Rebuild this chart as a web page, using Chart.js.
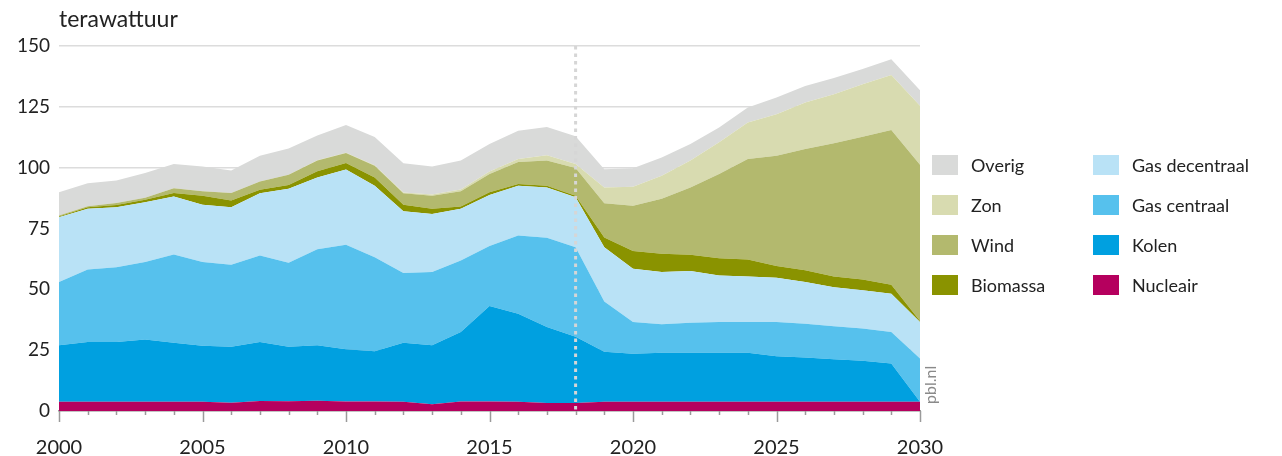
<!DOCTYPE html>
<html>
<head>
<meta charset="utf-8">
<script src="https://cdn.jsdelivr.net/npm/chart.js@4.4.0/dist/chart.umd.min.js"></script>
<style>
  body { margin: 0; background: #fff; font-family: Lato, "Open Sans", sans-serif; color: #222; }
  #wrap { position: relative; width: 1282px; height: 456px; }
  #unit { position: absolute; left: 59px; top: 4px; font-size: 23px; }
  #pbl { position: absolute; left: 920px; top: 404px; font-size: 16px; color: #8a8a8a; transform: rotate(-90deg); transform-origin: left top; }
  .leg { position: absolute; font-size: 18px; line-height: 20px; }
  .leg span { position: absolute; left: 0; top: 0; width: 26px; height: 20px; }
  .leg b { position: absolute; left: 39px; top: 0; font-weight: normal; white-space: nowrap; }
</style>
</head>
<body>
<div id="wrap">
  <canvas id="energyChart" width="1282" height="456"></canvas>
  <div id="unit">terawattuur</div>
  <div id="pbl">pbl.nl</div>
</div>
<script>
// productie per bron, TWh
const years = [2000, 2001, 2002, 2003, 2004, 2005, 2006, 2007, 2008, 2009, 2010,
  2011, 2012, 2013, 2014, 2015, 2016, 2017, 2018, 2019, 2020,
  2021, 2022, 2023, 2024, 2025, 2026, 2027, 2028, 2029, 2030];

const nucleair = [3.8, 3.8, 3.8, 3.8, 3.8, 3.8, 3.4, 4.1, 4.0, 4.2, 3.9,
  3.9, 3.8, 2.8, 3.9, 3.9, 3.8, 3.3, 3.3, 3.8, 3.8,
  3.8, 3.8, 3.8, 3.8, 3.8, 3.8, 3.8, 3.8, 3.8, 3.8];
const kolen = [23.2, 24.6, 24.6, 25.6, 24.2, 23.0, 23.0, 24.3, 22.4, 22.8, 21.5,
  20.7, 24.2, 24.2, 28.6, 39.3, 36.2, 31.2, 27.2, 20.5, 19.7,
  20.1, 20.1, 20.1, 20.1, 18.7, 18.2, 17.5, 16.8, 15.7, 0];
const gasCentraal = [26.0, 29.7, 30.7, 31.8, 36.3, 34.4, 33.7, 35.5, 34.5, 39.5, 42.9,
  38.6, 28.7, 30.1, 29.4, 24.6, 32.1, 36.7, 36.8, 20.7, 13.1,
  11.8, 12.4, 12.7, 12.7, 14.1, 13.9, 13.5, 13.3, 13.0, 17.8];
const gasDecentraal = [26.6, 25.0, 24.6, 24.6, 23.8, 23.6, 23.6, 25.6, 30.4, 29.5, 30.9,
  29.4, 25.4, 23.9, 21.2, 21.0, 20.5, 20.7, 20.5, 22.3, 21.9,
  21.4, 21.2, 19.1, 18.7, 18.2, 17.1, 16.1, 15.7, 15.7, 15.0];
const biomassa = [0.3, 0.6, 1.0, 1.0, 1.5, 3.7, 2.8, 1.4, 1.6, 2.5, 2.7,
  3.4, 2.7, 2.1, 0.9, 1.1, 0.7, 0.7, 0.7, 4.0, 7.3,
  7.5, 6.7, 7.1, 7.0, 4.8, 4.8, 4.4, 4.4, 3.7, 0.4];
const wind = [0.4, 0.4, 0.8, 0.8, 1.9, 1.8, 3.1, 3.4, 4.2, 4.4, 4.1,
  4.8, 4.7, 5.4, 6.3, 7.5, 9.0, 10.3, 11.4, 14.1, 18.6,
  22.6, 27.7, 34.6, 41.3, 45.3, 49.9, 54.7, 58.7, 63.6, 64.2];
const zon = [0, 0, 0, 0, 0, 0, 0, 0, 0, 0.1, 0.1,
  0.2, 0.3, 0.5, 0.7, 1.0, 1.3, 2.2, 1.6, 6.5, 7.8,
  9.5, 11.0, 13.0, 15.0, 17.1, 19.1, 20.2, 21.6, 22.6, 24.2];
const overig = [9.6, 9.5, 9.2, 10.2, 10.0, 10.2, 9.2, 10.6, 10.8, 10.2, 11.4,
  11.6, 12.0, 11.5, 11.9, 11.3, 11.6, 11.6, 11.4, 7.5, 7.6,
  7.5, 6.8, 6.1, 6.1, 6.8, 6.8, 6.6, 6.2, 6.5, 6.4];

const yTicks = [0, 25, 50, 75, 100, 125, 150];
const xLabelYears = [2000, 2005, 2010, 2015, 2020, 2025, 2030];
const splitYear = 2018; // grens realisatie / raming

const series = [
  { label: "Nucleair", data: nucleair, color: "#b5005e" },
  { label: "Kolen", data: kolen, color: "#00a0e0" },
  { label: "Gas centraal", data: gasCentraal, color: "#56c1ed" },
  { label: "Gas decentraal", data: gasDecentraal, color: "#b9e2f6" },
  { label: "Biomassa", data: biomassa, color: "#8a9300" },
  { label: "Wind", data: wind, color: "#b3b96e" },
  { label: "Zon", data: zon, color: "#d8dbb0" },
  { label: "Overig", data: overig, color: "#d9dad9" }
];
const legendCols = [["Overig", "Zon", "Wind", "Biomassa"], ["Gas decentraal", "Gas centraal", "Kolen", "Nucleair"]];

const datasets = series.map((s, i) => ({
  label: s.label,
  data: s.data.map((v, j) => ({ x: years[j], y: v })),
  backgroundColor: s.color,
  borderWidth: 0,
  pointRadius: 0,
  fill: i === 0 ? "origin" : "-1",
  tension: 0
}));

// kleine en grote streepjes onder de x-as, plus stippellijn bij 2018
const extras = {
  id: "extras",
  afterDatasetsDraw(chart) {
    const c = chart.ctx, xs = chart.scales.x, ys = chart.scales.y;
    const bottom = chart.chartArea.bottom;
    c.save();
    c.strokeStyle = "#9a9a9a";
    c.lineWidth = 1.5;
    years.forEach(yr => {
      const px = Math.round(xs.getPixelForValue(yr)) + 0.5;
      const len = xLabelYears.includes(yr) ? 11 : 4;
      c.beginPath();
      c.moveTo(px, bottom);
      c.lineTo(px, bottom + len);
      c.stroke();
    });
    const sx = xs.getPixelForValue(splitYear);
    c.strokeStyle = "#d6d6d6";
    c.lineWidth = 3;
    c.setLineDash([3.5, 4]);
    c.beginPath();
    c.moveTo(sx, ys.getPixelForValue(150));
    c.lineTo(sx, bottom);
    c.stroke();
    c.restore();
  }
};

const chart = new Chart(document.getElementById("energyChart"), {
  type: "line",
  data: { datasets: datasets },
  options: {
    responsive: false,
    animation: false,
    devicePixelRatio: 1,
    layout: { padding: { left: 0, right: 362, top: 46, bottom: 0 } },
    plugins: { legend: { display: false }, tooltip: { enabled: false } },
    scales: {
      x: {
        type: "linear",
        min: 2000,
        max: 2030,
        afterFit: s => { s.height = 45; },
        afterBuildTicks: s => { s.ticks = xLabelYears.map(v => ({ value: v })); },
        grid: { display: false, drawTicks: false },
        border: { display: true, color: "#9a9a9a", width: 1.5 },
        ticks: {
          padding: 25,
          maxRotation: 0,
          color: "#222",
          font: { family: "Lato", size: 20 },
          callback: v => String(v)
        }
      },
      y: {
        stacked: true,
        min: 0,
        max: 150,
        afterFit: s => { s.width = 59; },
        afterBuildTicks: s => { s.ticks = yTicks.map(v => ({ value: v })); },
        grid: { color: "#dcdcdc", lineWidth: 1.5, drawTicks: false },
        border: { display: false },
        ticks: {
          padding: 9,
          color: "#222",
          font: { family: "Lato", size: 19 }
        }
      }
    }
  },
  plugins: [extras]
});

// legenda in twee kolommen
const wrap = document.getElementById("wrap");
legendCols.forEach((col, ci) => {
  col.forEach((name, ri) => {
    const ds = chart.data.datasets.find(d => d.label === name);
    const el = document.createElement("div");
    el.className = "leg";
    el.style.left = (932 + ci * 161) + "px";
    el.style.top = (155 + ri * 40) + "px";
    el.innerHTML = '<span style="background:' + ds.backgroundColor + '"></span><b>' + name + '</b>';
    wrap.appendChild(el);
  });
});
</script>
</body>
</html>
